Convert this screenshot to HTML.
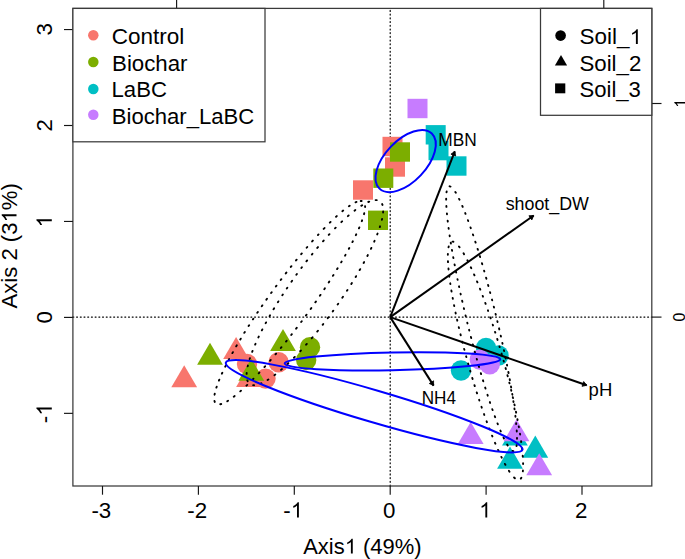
<!DOCTYPE html><html><head><meta charset="utf-8"><style>html,body{margin:0;padding:0;background:#fff;}svg{display:block;}text{font-kerning:none;}</style></head><body>
<svg width="685" height="559" viewBox="0 0 685 559">
<rect width="685" height="559" fill="#fff"/>
<line x1="72.9" y1="317.1" x2="651.8" y2="317.1" stroke="#000" stroke-width="1.2" stroke-dasharray="0.93 2.778" stroke-linecap="round"/>
<line x1="390.2" y1="486.0" x2="390.2" y2="8.4" stroke="#000" stroke-width="1.2" stroke-dasharray="0.93 2.778" stroke-linecap="round"/>
<circle cx="247" cy="364" r="10.2" fill="#F8766D"/>
<circle cx="265.5" cy="378.6" r="10.2" fill="#F8766D"/>
<circle cx="278.6" cy="362.2" r="10.2" fill="#F8766D"/>
<polygon points="184.20,365.20 197.10,387.25 171.30,387.25" fill="#F8766D"/>
<polygon points="236.10,337.00 249.00,359.05 223.20,359.05" fill="#F8766D"/>
<polygon points="249.00,364.90 261.90,386.95 236.10,386.95" fill="#F8766D"/>
<rect x="382.50" y="136.80" width="20.0" height="19.4" fill="#F8766D"/>
<rect x="385.00" y="157.30" width="20.0" height="19.4" fill="#F8766D"/>
<rect x="353.00" y="180.30" width="20.0" height="19.4" fill="#F8766D"/>
<circle cx="310" cy="347.3" r="10.2" fill="#7CAE00"/>
<circle cx="306.2" cy="360" r="10.2" fill="#7CAE00"/>
<polygon points="210.00,342.70 222.90,364.75 197.10,364.75" fill="#7CAE00"/>
<polygon points="251.30,358.60 264.20,380.65 238.40,380.65" fill="#7CAE00"/>
<polygon points="283.00,328.90 295.90,350.95 270.10,350.95" fill="#7CAE00"/>
<rect x="390.00" y="142.30" width="20.0" height="19.4" fill="#7CAE00"/>
<rect x="373.30" y="168.50" width="20.0" height="19.4" fill="#7CAE00"/>
<rect x="368.00" y="210.60" width="20.0" height="19.4" fill="#7CAE00"/>
<circle cx="461" cy="370.5" r="10.2" fill="#00BFC4"/>
<circle cx="486" cy="348" r="10.2" fill="#00BFC4"/>
<circle cx="498.5" cy="355.5" r="10.2" fill="#00BFC4"/>
<polygon points="514.90,423.50 527.80,445.55 502.00,445.55" fill="#00BFC4"/>
<polygon points="535.30,435.60 548.20,457.65 522.40,457.65" fill="#00BFC4"/>
<polygon points="510.00,446.60 522.90,468.65 497.10,468.65" fill="#00BFC4"/>
<rect x="425.70" y="125.10" width="20.0" height="19.4" fill="#00BFC4"/>
<rect x="428.50" y="140.90" width="20.0" height="19.4" fill="#00BFC4"/>
<rect x="446.50" y="156.30" width="20.0" height="19.4" fill="#00BFC4"/>
<circle cx="479.8" cy="359.6" r="10.2" fill="#C77CFF"/>
<circle cx="489.7" cy="364.4" r="10.2" fill="#C77CFF"/>
<polygon points="470.70,421.90 483.60,443.95 457.80,443.95" fill="#C77CFF"/>
<polygon points="516.50,419.30 529.40,441.35 503.60,441.35" fill="#C77CFF"/>
<polygon points="539.20,453.30 552.10,475.35 526.30,475.35" fill="#C77CFF"/>
<rect x="407.50" y="98.80" width="20.0" height="19.4" fill="#C77CFF"/>
<path d="M360.72,200.96L361.63,201.03M365.09,206.10L365.12,207.00M364.23,213.27L364.00,214.20M362.11,220.31L361.80,221.19M359.33,227.43L358.96,228.29M356.22,234.36L355.85,235.15M352.84,241.25L352.41,242.10M349.27,248.07L348.88,248.79M345.51,254.87L345.08,255.63M341.64,261.58L341.18,262.36M337.62,268.30L337.13,269.11M333.48,275.00L332.97,275.82M329.27,281.62L328.73,282.45M324.88,288.33L324.32,289.17M320.48,294.89L319.90,295.74M315.94,301.49L315.35,302.34M311.30,308.09L310.69,308.94M306.56,314.67L305.95,315.52M301.76,321.20L301.13,322.04M296.74,327.86L296.11,328.68M291.85,334.20L291.22,335.01M286.64,340.81L286.01,341.59M281.44,347.23L280.81,347.99M276.13,353.62L275.51,354.36M270.73,359.94L269.96,360.81M265.13,366.27L264.38,367.10M259.39,372.54L258.67,373.31M253.44,378.77L252.61,379.61M247.24,384.91L246.46,385.66M240.95,390.72L240.23,391.36M234.65,396.00L233.79,396.67M228.06,400.69L227.25,401.19M221.19,404.02L220.29,404.24M214.77,401.91L214.48,400.99M214.57,394.70L214.74,393.78M216.37,387.62L216.68,386.67M218.91,380.62L219.30,379.65M221.89,373.66L222.32,372.74M225.23,366.65L225.65,365.82M228.74,359.81L229.12,359.10M232.37,353.12L232.89,352.19M236.23,346.32L236.79,345.35M240.27,339.47L240.75,338.68M244.33,332.83L244.84,332.02M248.60,326.05L249.13,325.22M252.93,319.37L253.35,318.74M257.29,312.82L257.86,311.97M261.77,306.23L262.36,305.38M266.38,299.63L266.98,298.78M271.09,293.04L271.70,292.19M275.87,286.49L276.49,285.65M280.71,280.01L281.34,279.18M285.75,273.42L286.38,272.60M290.80,266.96L291.44,266.16M296.01,260.46L296.64,259.69M301.19,254.17L301.81,253.43M306.62,247.75L307.23,247.04M312.11,241.46L312.86,240.61M317.91,235.04L318.50,234.40M323.67,228.92L324.51,228.04M329.85,222.65L330.52,222.00M336.06,216.75L336.80,216.08M342.36,211.25L343.15,210.61M348.91,206.25L349.69,205.72M355.57,202.34L356.47,201.95M375.79,200.08L376.73,200.12M382.15,204.06L382.49,204.95M383.15,211.48L383.09,212.43M382.07,218.97L381.88,219.80M380.08,226.31L379.82,227.13M377.54,233.57L377.19,234.47M374.56,240.86L374.21,241.66M371.33,247.97L370.92,248.82M367.82,255.08L367.37,255.97M364.12,262.11L363.62,263.03M360.20,269.15L359.67,270.09M356.11,276.16L355.65,276.92M351.89,283.06L351.29,284.03M347.46,290.02L346.96,290.80M342.98,296.81L342.32,297.77M338.21,303.76L337.67,304.53M333.31,310.65L332.75,311.41M328.44,317.25L327.74,318.18M323.22,324.08L322.65,324.81M317.94,330.73L317.23,331.61M312.51,337.31L311.79,338.16M306.81,343.94L306.10,344.74M300.88,350.51L300.18,351.26M294.79,356.91L293.97,357.74M288.34,363.27L287.55,364.01M281.91,369.13L281.03,369.88M275.25,374.61L274.44,375.23M268.38,379.48L267.55,380.01M261.39,383.30L260.52,383.67M254.06,385.18L253.17,385.15M247.65,381.26L247.31,380.38M246.62,373.87L246.68,372.92M247.69,366.40L247.87,365.58M249.66,359.09L249.96,358.13M252.19,351.84L252.53,350.94M255.15,344.56L255.50,343.76M258.37,337.46L258.78,336.61M261.87,330.35L262.32,329.47M265.66,323.15L266.06,322.42M269.58,316.11L270.01,315.35M273.56,309.30L274.13,308.34M277.89,302.20L278.37,301.43M282.32,295.24L282.82,294.46M286.80,288.45L287.32,287.68M291.44,281.69L292.11,280.73M296.34,274.80L296.89,274.04M301.34,268.01L301.90,267.26M306.42,261.36L307.13,260.45M311.84,254.53L312.41,253.83M317.27,247.95L317.99,247.10M322.97,241.32L323.68,240.52M328.76,234.91L329.46,234.15M334.99,228.35L335.68,227.66M341.31,222.12L342.10,221.37M347.87,216.13L348.62,215.48M354.53,210.65L355.34,210.03M361.29,205.85L362.13,205.32M368.30,202.00L369.18,201.63M375.59,200.08L375.79,200.08M449.60,186.34L450.52,186.56M455.32,191.95L455.83,192.77M459.08,198.87L459.48,199.71M462.31,205.99L462.68,206.87M465.19,213.02L465.52,213.86M467.94,220.25L468.22,220.99M470.51,227.39L470.80,228.20M472.94,234.45L473.22,235.31M475.33,241.70L475.62,242.61M477.60,248.85L477.90,249.80M479.82,256.05L480.12,257.03M481.97,263.25L482.27,264.26M484.12,270.65L484.34,271.43M486.11,277.70L486.41,278.76M488.09,284.89L488.38,285.96M490.05,292.18L490.26,292.99M491.98,299.55L492.19,300.38M493.81,306.72L494.01,307.54M495.60,313.91L495.80,314.74M497.35,321.13L497.55,321.96M499.05,328.33L499.31,329.44M500.76,335.78L500.95,336.61M502.36,342.91L502.53,343.73M503.94,350.23L504.12,351.04M505.46,357.45L505.68,358.51M506.95,364.81L507.11,365.59M508.36,372.01L508.55,373.03M509.71,379.28L509.89,380.27M511.01,386.56L511.17,387.51M512.26,394.03L512.37,394.72M513.38,401.17L513.51,402.03M514.44,408.54L514.55,409.36M515.36,415.82L515.47,416.76M516.15,423.20L516.23,424.04M516.73,430.56L516.78,431.44M517.00,437.87L517.00,438.71M516.66,445.16L516.54,446.04M513.33,451.26L512.43,450.95M507.69,445.43L507.18,444.59M503.97,438.51L503.56,437.66M500.79,431.49L500.42,430.60M497.84,424.26L497.51,423.42M495.15,417.19L494.81,416.25M492.58,410.02L492.29,409.22M490.15,402.96L489.86,402.10M487.76,395.69L487.47,394.79M485.48,388.53L485.19,387.59M483.26,381.32L482.97,380.34M481.11,374.12L480.82,373.11M479.04,366.97L478.74,365.93M476.97,359.65L476.75,358.86M475.00,352.47L474.78,351.66M473.04,345.17L472.82,344.35M471.18,338.07L470.90,336.97M469.28,330.63L469.08,329.80M467.49,323.43L467.29,322.60M465.75,316.22L465.55,315.39M464.05,309.01L463.85,308.18M462.40,301.84L462.15,300.74M460.74,294.44L460.57,293.62M459.16,287.12L458.99,286.31M457.65,279.90L457.48,279.11M456.16,272.55L456.00,271.77M454.75,265.35L454.56,264.34M453.40,258.09L453.22,257.11M452.11,250.82L451.95,249.87M450.90,243.59L450.75,242.68M449.75,236.24L449.62,235.37M448.70,228.87L448.59,228.06M447.78,221.61L447.67,220.68M446.99,214.25L446.92,213.41M446.42,206.91L446.37,206.03M446.16,199.63L446.16,198.68M446.52,192.29L446.66,191.35M452.50,241.63L453.41,241.76M458.97,246.50L459.60,247.30M463.55,253.29L464.06,254.16M467.41,260.31L467.83,261.12M470.82,267.25L471.25,268.18M474.07,274.44L474.45,275.30M477.03,281.43L477.42,282.36M479.98,288.75L480.29,289.55M482.72,295.89L483.03,296.73M485.32,302.95L485.63,303.83M487.92,310.29L488.15,310.97M490.35,317.40L490.66,318.33M492.76,324.69L492.99,325.41M495.06,331.89L495.29,332.62M497.26,338.97L497.55,339.95M499.48,346.37L499.70,347.11M501.57,353.58L501.79,354.32M503.61,360.81L503.81,361.56M505.58,368.05L505.84,369.04M507.47,375.25L507.73,376.25M509.35,382.66L509.53,383.39M511.13,389.97L511.30,390.70M512.81,397.17L513.02,398.12M514.43,404.46L514.63,405.39M515.97,411.79L516.16,412.69M517.42,419.11L517.59,419.98M518.76,426.36L518.90,427.19M519.99,433.67L520.14,434.65M521.10,441.12L521.22,442.04M522.01,448.38L522.10,449.23M522.71,455.76L522.78,456.65M523.09,463.16L523.11,464.04M522.93,470.50L522.85,471.36M521.35,477.76L520.87,478.58M514.88,478.26L514.08,477.51M509.47,471.65L508.92,470.80M505.38,464.79L504.91,463.92M501.72,457.69L501.37,456.96M498.46,450.73L498.09,449.90M495.38,443.69L495.00,442.78M492.38,436.42L492.07,435.64M489.58,429.26L489.26,428.44M486.90,422.15L486.59,421.29M484.30,414.94L483.99,414.05M481.79,407.71L481.47,406.79M479.36,400.50L479.13,399.79M477.04,393.36L476.74,392.40M474.76,386.10L474.46,385.12M472.59,378.98L472.29,377.99M470.39,371.55L470.18,370.80M468.33,364.32L468.12,363.57M466.33,357.09L466.12,356.34M464.39,349.86L464.13,348.87M462.54,342.68L462.29,341.69M460.71,335.32L460.48,334.34M458.98,328.05L458.76,327.10M457.30,320.69L457.10,319.75M455.74,313.49L455.55,312.58M454.22,306.05L454.05,305.16M452.85,298.87L452.69,298.02M451.56,291.58L451.39,290.56M450.37,284.08L450.26,283.32M449.36,276.72L449.25,275.84M448.56,269.46L448.47,268.51M448.00,262.10L447.96,261.13M447.86,254.73L447.88,253.84M448.52,247.39L448.71,246.50" stroke="#000" stroke-width="1.9" stroke-linecap="round" fill="none"/>
<ellipse cx="405.65" cy="161.09" rx="37.99" ry="20.67" transform="rotate(-46.48 405.65 161.09)" fill="none" stroke="#0000FF" stroke-width="2"/>
<ellipse cx="392.48" cy="361.35" rx="107.81" ry="8.89" transform="rotate(-1.16 392.48 361.35)" fill="none" stroke="#0000FF" stroke-width="2"/>
<ellipse cx="374.15" cy="406.26" rx="154.62" ry="15.96" transform="rotate(16.37 374.15 406.26)" fill="none" stroke="#0000FF" stroke-width="2"/>
<line x1="390.2" y1="317.1" x2="454.8" y2="151.3" stroke="#000" stroke-width="2"/><polygon points="454.8,151.3 455.69,156.02 450.95,154.17" fill="#000" stroke="#000" stroke-width="0.8" stroke-linejoin="round"/>
<line x1="390.2" y1="317.1" x2="533.7" y2="215.5" stroke="#000" stroke-width="2"/><polygon points="533.7,215.5 531.85,219.93 528.91,215.78" fill="#000" stroke="#000" stroke-width="0.8" stroke-linejoin="round"/>
<line x1="390.2" y1="317.1" x2="586.7" y2="385.3" stroke="#000" stroke-width="2"/><polygon points="586.7,385.3 582.02,386.37 583.69,381.56" fill="#000" stroke="#000" stroke-width="0.8" stroke-linejoin="round"/>
<line x1="390.2" y1="317.1" x2="433.6" y2="385.6" stroke="#000" stroke-width="2"/><polygon points="433.6,385.6 429.27,383.52 433.57,380.80" fill="#000" stroke="#000" stroke-width="0.8" stroke-linejoin="round"/>
<text x="438.32" y="145.70" font-family="Liberation Sans, sans-serif" font-size="17.6" textLength="38.46" lengthAdjust="spacingAndGlyphs" fill="#000">MBN</text>
<text x="505.69" y="209.80" font-family="Liberation Sans, sans-serif" font-size="17.6" textLength="83.17" lengthAdjust="spacingAndGlyphs" fill="#000">shoot_DW</text>
<text x="588.64" y="395.70" font-family="Liberation Sans, sans-serif" font-size="17.6" textLength="23.62" lengthAdjust="spacingAndGlyphs" fill="#000">pH</text>
<text x="421.74" y="403.50" font-family="Liberation Sans, sans-serif" font-size="17.6" textLength="34.26" lengthAdjust="spacingAndGlyphs" fill="#000">NH4</text>
<rect x="72.9" y="8.4" width="578.9" height="477.6" fill="none" stroke="#3a3a3a" stroke-width="1.25"/>
<line x1="102.50" y1="486.0" x2="102.50" y2="494.7" stroke="#151515" stroke-width="1.15"/>
<text x="91.44" y="517.60" font-family="Liberation Sans, sans-serif" font-size="22.3" fill="#000">-3</text>
<line x1="198.40" y1="486.0" x2="198.40" y2="494.7" stroke="#151515" stroke-width="1.15"/>
<text x="187.34" y="517.60" font-family="Liberation Sans, sans-serif" font-size="22.3" fill="#000">-2</text>
<line x1="294.30" y1="486.0" x2="294.30" y2="494.7" stroke="#151515" stroke-width="1.15"/>
<text x="283.24" y="517.60" font-family="Liberation Sans, sans-serif" font-size="22.3" fill="#000">- </text><path d="M763,0 L583,0 L583,1147 Q518,1085 413,1023 Q308,961 223,929 L223,1102 Q374,1173 487,1276 Q600,1379 647,1466 L763,1466 Z" transform="translate(290.90,517.60) scale(0.01047,-0.01047)" fill="#000"/>
<line x1="390.20" y1="486.0" x2="390.20" y2="494.7" stroke="#151515" stroke-width="1.15"/>
<text x="383.10" y="517.60" font-family="Liberation Sans, sans-serif" font-size="22.3" fill="#000">0</text>
<line x1="486.10" y1="486.0" x2="486.10" y2="494.7" stroke="#151515" stroke-width="1.15"/>
<text x="479.00" y="517.60" font-family="Liberation Sans, sans-serif" font-size="22.3" fill="#000"> </text><path d="M763,0 L583,0 L583,1147 Q518,1085 413,1023 Q308,961 223,929 L223,1102 Q374,1173 487,1276 Q600,1379 647,1466 L763,1466 Z" transform="translate(479.24,517.60) scale(0.01047,-0.01047)" fill="#000"/>
<line x1="582.00" y1="486.0" x2="582.00" y2="494.7" stroke="#151515" stroke-width="1.15"/>
<text x="574.90" y="517.60" font-family="Liberation Sans, sans-serif" font-size="22.3" fill="#000">2</text>
<line x1="64.0" y1="413.35" x2="72.9" y2="413.35" stroke="#151515" stroke-width="1.15"/>
<text x="-9.91" y="0.00" font-family="Liberation Sans, sans-serif" font-size="22.3" transform="translate(51.80,413.35) rotate(-90)" fill="#000">- </text><path d="M763,0 L583,0 L583,1147 Q518,1085 413,1023 Q308,961 223,929 L223,1102 Q374,1173 487,1276 Q600,1379 647,1466 L763,1466 Z" transform="translate(51.80,413.35) rotate(-90) translate(-2.25,0.00) scale(0.01047,-0.01047)" fill="#000"/>
<line x1="64.0" y1="317.40" x2="72.9" y2="317.40" stroke="#151515" stroke-width="1.15"/>
<text x="-6.20" y="0.00" font-family="Liberation Sans, sans-serif" font-size="22.3" transform="translate(51.80,317.25) rotate(-90)" fill="#000">0</text>
<line x1="64.0" y1="221.45" x2="72.9" y2="221.45" stroke="#151515" stroke-width="1.15"/>
<text x="-6.20" y="0.00" font-family="Liberation Sans, sans-serif" font-size="22.3" transform="translate(51.80,221.30) rotate(-90)" fill="#000"> </text><path d="M763,0 L583,0 L583,1147 Q518,1085 413,1023 Q308,961 223,929 L223,1102 Q374,1173 487,1276 Q600,1379 647,1466 L763,1466 Z" transform="translate(51.80,221.30) rotate(-90) translate(-5.96,0.00) scale(0.01047,-0.01047)" fill="#000"/>
<line x1="64.0" y1="125.50" x2="72.9" y2="125.50" stroke="#151515" stroke-width="1.15"/>
<text x="-6.20" y="0.00" font-family="Liberation Sans, sans-serif" font-size="22.3" transform="translate(51.80,125.35) rotate(-90)" fill="#000">2</text>
<line x1="64.0" y1="29.55" x2="72.9" y2="29.55" stroke="#151515" stroke-width="1.15"/>
<text x="-6.20" y="0.00" font-family="Liberation Sans, sans-serif" font-size="22.3" transform="translate(51.80,29.40) rotate(-90)" fill="#000">3</text>
<line x1="176.60" y1="8.4" x2="176.60" y2="-1.0999999999999996" stroke="#151515" stroke-width="1.15"/>
<line x1="603.80" y1="8.4" x2="603.80" y2="-1.0999999999999996" stroke="#151515" stroke-width="1.15"/>
<line x1="651.8" y1="317.10" x2="661.5" y2="317.10" stroke="#151515" stroke-width="1.15"/>
<text x="-4.39" y="0.00" font-family="Liberation Sans, sans-serif" font-size="15.8" transform="translate(685.20,317.10) rotate(-90)" fill="#000">0</text>
<line x1="651.8" y1="103.50" x2="661.5" y2="103.50" stroke="#151515" stroke-width="1.15"/>
<text x="-4.39" y="0.00" font-family="Liberation Sans, sans-serif" font-size="15.8" transform="translate(685.20,103.50) rotate(-90)" fill="#000"> </text><path d="M763,0 L583,0 L583,1147 Q518,1085 413,1023 Q308,961 223,929 L223,1102 Q374,1173 487,1276 Q600,1379 647,1466 L763,1466 Z" transform="translate(685.20,103.50) rotate(-90) translate(-4.22,0.00) scale(0.00741,-0.00741)" fill="#000"/>
<text x="303.20" y="553.60" font-family="Liberation Sans, sans-serif" font-size="21.5" textLength="118.33" lengthAdjust="spacingAndGlyphs" fill="#000">Axis  (49%)</text><path d="M763,0 L583,0 L583,1147 Q518,1085 413,1023 Q308,961 223,929 L223,1102 Q374,1173 487,1276 Q600,1379 647,1466 L763,1466 Z" transform="translate(344.90,553.60) scale(0.01030,-0.01009)" fill="#000"/>
<text x="-0.10" y="0.00" font-family="Liberation Sans, sans-serif" font-size="21.5" textLength="125.31" lengthAdjust="spacingAndGlyphs" transform="translate(16.50,308.40) rotate(-90)" fill="#000">Axis 2 (3 %)</text><path d="M763,0 L583,0 L583,1147 Q518,1085 413,1023 Q308,961 223,929 L223,1102 Q374,1173 487,1276 Q600,1379 647,1466 L763,1466 Z" transform="translate(16.50,308.40) rotate(-90) translate(86.14,0.00) scale(0.01037,-0.01009)" fill="#000"/>
<rect x="72.9" y="8.4" width="192.1" height="133.4" fill="#fff" stroke="#3a3a3a" stroke-width="1.25"/>
<circle cx="93.3" cy="35.30" r="5.25" fill="#F8766D"/>
<text x="111.75" y="44.10" font-family="Liberation Sans, sans-serif" font-size="21.5" textLength="72.63" lengthAdjust="spacingAndGlyphs" fill="#000">Control</text>
<circle cx="93.3" cy="62.00" r="5.25" fill="#7CAE00"/>
<text x="112.04" y="70.50" font-family="Liberation Sans, sans-serif" font-size="21.5" textLength="75.48" lengthAdjust="spacingAndGlyphs" fill="#000">Biochar</text>
<circle cx="93.3" cy="89.00" r="5.25" fill="#00BFC4"/>
<text x="111.55" y="97.30" font-family="Liberation Sans, sans-serif" font-size="21.5" textLength="55.36" lengthAdjust="spacingAndGlyphs" fill="#000">LaBC</text>
<circle cx="93.3" cy="114.70" r="5.25" fill="#C77CFF"/>
<text x="111.75" y="123.90" font-family="Liberation Sans, sans-serif" font-size="21.5" textLength="142.41" lengthAdjust="spacingAndGlyphs" fill="#000">Biochar_LaBC</text>
<rect x="540.5" y="8.4" width="111.29999999999995" height="106.89999999999999" fill="#fff" stroke="#3a3a3a" stroke-width="1.25"/>
<circle cx="560.6" cy="35.6" r="5.3" fill="#000"/>
<polygon points="561.00,55.00 567.10,65.50 554.90,65.50" fill="#000"/>
<rect x="555.1" y="83.4" width="10.2" height="9.9" fill="#000"/>
<text x="579.56" y="44.00" font-family="Liberation Sans, sans-serif" font-size="21.5" textLength="62.45" lengthAdjust="spacingAndGlyphs" fill="#000">Soil_ </text><path d="M763,0 L583,0 L583,1147 Q518,1085 413,1023 Q308,961 223,929 L223,1102 Q374,1173 487,1276 Q600,1379 647,1466 L763,1466 Z" transform="translate(629.76,44.00) scale(0.01054,-0.01009)" fill="#000"/>
<text x="579.47" y="70.80" font-family="Liberation Sans, sans-serif" font-size="21.5" textLength="61.84" lengthAdjust="spacingAndGlyphs" fill="#000">Soil_2</text>
<text x="579.47" y="97.20" font-family="Liberation Sans, sans-serif" font-size="21.5" textLength="61.42" lengthAdjust="spacingAndGlyphs" fill="#000">Soil_3</text>
</svg></body></html>
